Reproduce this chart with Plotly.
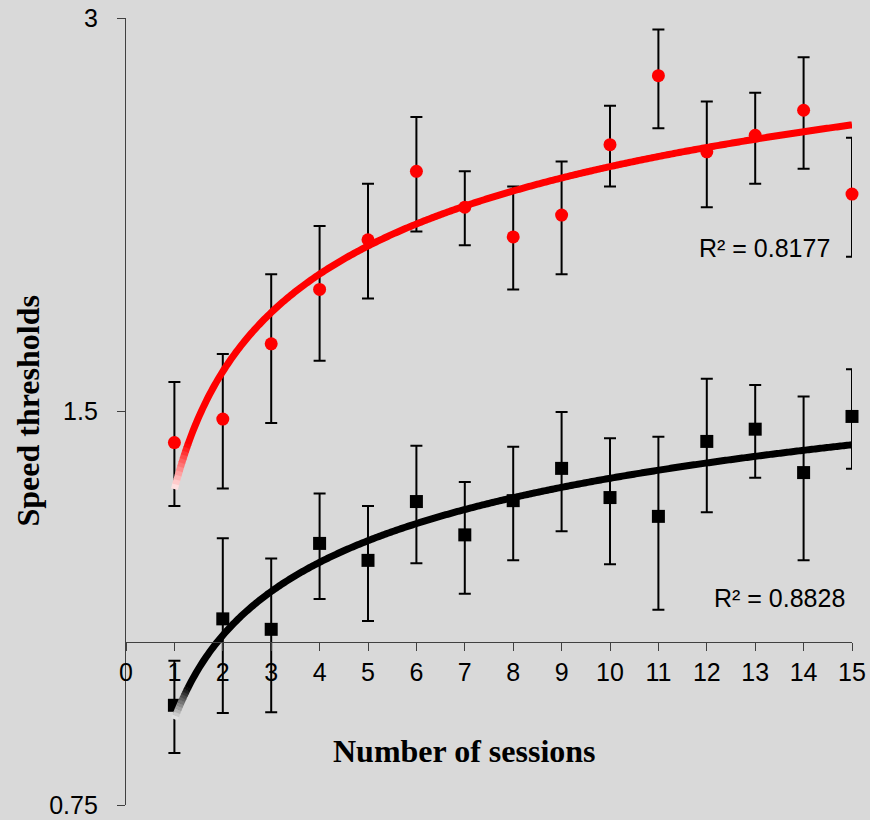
import numpy as np
import plotly.graph_objects as go

# ---------------- data ----------------
sessions = list(range(1, 16))

red_mean = [1.42, 1.48, 1.69, 1.86, 2.03, 2.29, 2.15, 2.04, 2.12, 2.40, 2.71, 2.37, 2.44, 2.55, 2.20]
red_upper = [1.58, 1.66, 1.91, 2.08, 2.24, 2.52, 2.29, 2.23, 2.33, 2.57, 2.94, 2.59, 2.63, 2.80, 2.43]
red_lower = [1.27, 1.31, 1.47, 1.64, 1.83, 2.06, 2.01, 1.86, 1.91, 2.23, 2.47, 2.15, 2.24, 2.30, 1.97]

black_mean = [0.894, 1.041, 1.022, 1.189, 1.154, 1.280, 1.207, 1.282, 1.357, 1.289, 1.247, 1.423, 1.454, 1.347, 1.487]
black_upper = [0.967, 1.200, 1.158, 1.298, 1.270, 1.412, 1.325, 1.410, 1.499, 1.431, 1.435, 1.589, 1.572, 1.540, 1.616]
black_lower = [0.822, 0.882, 0.883, 1.078, 1.037, 1.148, 1.088, 1.154, 1.215, 1.146, 1.058, 1.256, 1.335, 1.154, 1.356]

x_ticks = list(range(0, 16))
y_ticks = [0.75, 1.5, 3]
y_tick_text = ["0.75", "1.5", "3"]

red_r2_text = "R² = 0.8177"
black_r2_text = "R² = 0.8828"
x_title = "Number of sessions"
y_title = "Speed thresholds"

# ---------------- styling ----------------
BG = "#D9D9D9"
AXIS = "#404040"
RED = (255, 0, 0)
BLACK = (0, 0, 0)
Y_MIN, Y_MAX = 0.75, 3.0
X_CROSS = 1.0  # value where the x axis crosses the y axis

fig = go.Figure()


def add_series(means, upper, lower, color, symbol):
    err_plus = [u - m for u, m in zip(upper, means)]
    err_minus = [m - l for m, l in zip(means, lower)]
    fig.add_trace(go.Scatter(
        x=sessions, y=means, mode="markers",
        marker=dict(symbol=symbol, size=13, color=color, line=dict(width=0)),
        error_y=dict(type="data", symmetric=False, array=err_plus, arrayminus=err_minus,
                     color="black", thickness=2, width=6),
        cliponaxis=False, hoverinfo="skip", showlegend=False,
    ))


def add_trend(means, rgb):
    x = np.log(np.array(sessions, dtype=float))
    a, b = np.polyfit(x, np.array(means), 1)
    f = lambda s: a * np.log(s) + b
    # faded start segments (as in the original)
    fade_end = 1.28
    edges = np.linspace(1.0, fade_end, 12)
    n = len(edges) - 1
    for i in range(n):
        t = 0.08 + 0.92 * (i + 0.5) / n
        col = tuple(int(round(255 * (1 - t) + c * t)) for c in rgb)
        xs = np.linspace(edges[i], edges[i + 1] + 0.004, 4)
        fig.add_trace(go.Scatter(
            x=xs, y=f(xs), mode="lines",
            line=dict(color="rgb(%d,%d,%d)" % col, width=7, simplify=False),
            hoverinfo="skip", showlegend=False, cliponaxis=False,
        ))
    xs = np.linspace(fade_end, 15, 400)
    fig.add_trace(go.Scatter(
        x=xs, y=f(xs), mode="lines",
        line=dict(color="rgb(%d,%d,%d)" % rgb, width=7, simplify=False),
        hoverinfo="skip", showlegend=False, cliponaxis=False,
    ))


add_series(red_mean, red_upper, red_lower, "#FF0000", "circle")
add_series(black_mean, black_upper, black_lower, "#000000", "square")
add_trend(red_mean, RED)
add_trend(black_mean, BLACK)

x_pos = (np.log10(X_CROSS) - np.log10(Y_MIN)) / (np.log10(Y_MAX) - np.log10(Y_MIN))

tick_font = dict(family="Liberation Sans, Arial, sans-serif", size=25, color="black")
title_font = dict(family="Liberation Serif, Times New Roman, serif", size=32, color="black")

fig.update_layout(
    width=870, height=820,
    margin=dict(l=126, r=18, t=18, b=15, autoexpand=False),
    paper_bgcolor=BG, plot_bgcolor=BG,
    showlegend=False,
    xaxis=dict(
        range=[0, 15], tickmode="array", tickvals=x_ticks,
        ticks="outside", ticklen=8, tickwidth=1.3, tickcolor=AXIS,
        showline=True, linecolor=AXIS, linewidth=1.3,
        showgrid=False, zeroline=False, automargin=False,
        anchor="free", position=float(x_pos),
        tickfont=tick_font, ticklabelstandoff=0,
    ),
    yaxis=dict(
        type="log", range=[np.log10(Y_MIN), np.log10(Y_MAX)],
        tickmode="array", tickvals=y_ticks, ticktext=y_tick_text,
        ticks="outside", ticklen=8, tickwidth=1.3, tickcolor=AXIS,
        showline=True, linecolor=AXIS, linewidth=1.3,
        showgrid=False, zeroline=False, automargin=False,
        tickfont=tick_font, ticklabelstandoff=14,
    ),
    annotations=[
        dict(text="<b>%s</b>" % x_title, xref="paper", yref="paper",
             x=(464 - 126) / 726, y=(805 - 751) / 787, showarrow=False,
             xanchor="center", yanchor="middle", font=title_font),
        dict(text="<b>%s</b>" % y_title, xref="paper", yref="paper",
             x=(27 - 126) / 726, y=0.5, showarrow=False, textangle=-90,
             xanchor="center", yanchor="middle", font=title_font),
        dict(text=red_r2_text, xref="paper", yref="paper",
             x=(832 - 126) / 726, y=(805 - 248) / 787, showarrow=False,
             xanchor="right", yanchor="middle", font=tick_font),
        dict(text=black_r2_text, xref="paper", yref="paper",
             x=(847 - 126) / 726, y=(805 - 598) / 787, showarrow=False,
             xanchor="right", yanchor="middle", font=tick_font),
    ],
)

fig.write_html(
    "out.html",
    config={"displayModeBar": False},
    post_script="document.body.style.margin='0';document.body.style.background='%s';" % BG,
)
